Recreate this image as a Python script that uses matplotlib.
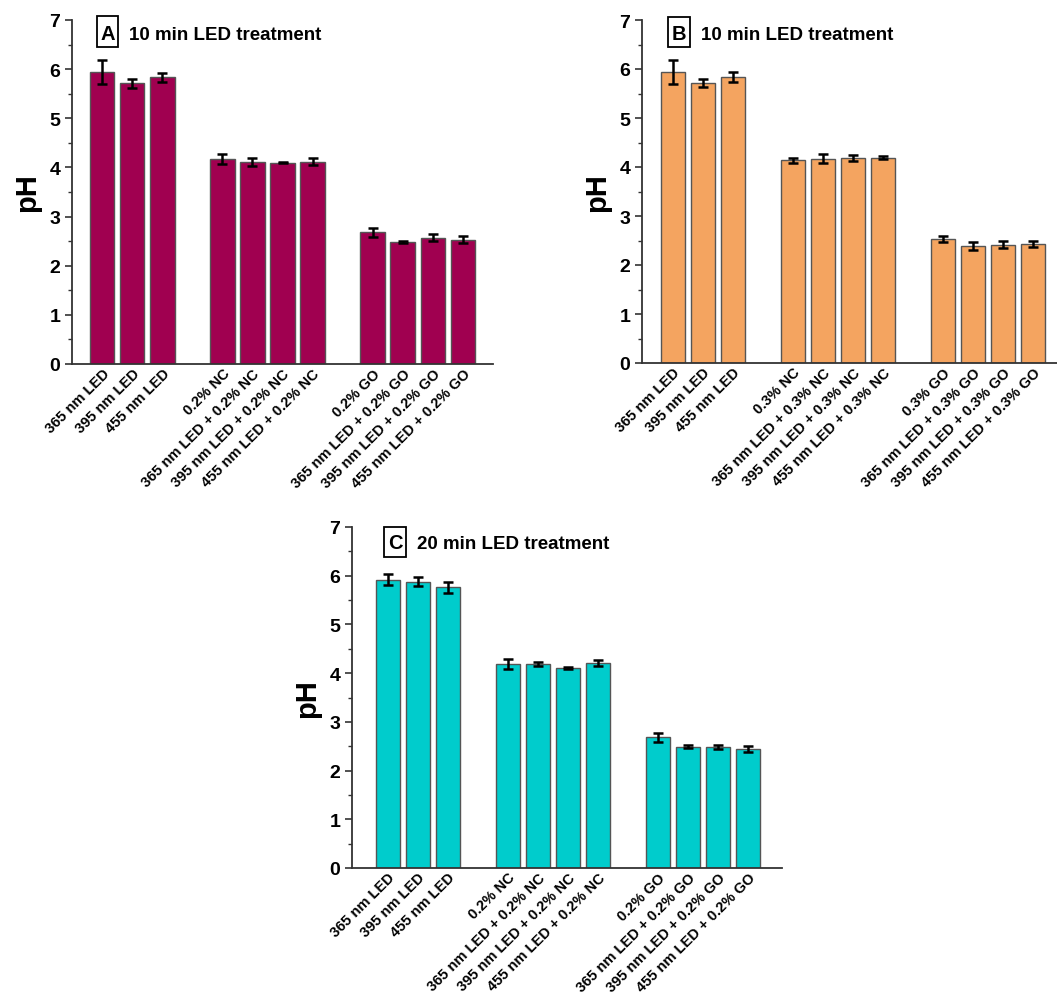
import matplotlib
matplotlib.use("Agg")
import matplotlib.pyplot as plt
from matplotlib.patches import Rectangle

plt.rcParams['font.family'] = ['Liberation Sans', 'DejaVu Sans']
plt.rcParams['font.weight'] = 'bold'

labels_02 = ["365 nm LED", "395 nm LED", "455 nm LED",
             "0.2% NC", "365 nm LED + 0.2% NC", "395 nm LED + 0.2% NC", "455 nm LED + 0.2% NC",
             "0.2% GO", "365 nm LED + 0.2% GO", "395 nm LED + 0.2% GO", "455 nm LED + 0.2% GO"]
labels_03 = ["365 nm LED", "395 nm LED", "455 nm LED",
             "0.3% NC", "365 nm LED + 0.3% NC", "395 nm LED + 0.3% NC", "455 nm LED + 0.3% NC",
             "0.3% GO", "365 nm LED + 0.3% GO", "395 nm LED + 0.3% GO", "455 nm LED + 0.3% GO"]
positions = [0, 1, 2, 4, 5, 6, 7, 9, 10, 11, 12]

ph_A = [5.94, 5.71, 5.83, 4.17, 4.11, 4.10, 4.12, 2.68, 2.48, 2.57, 2.53]
err_A = [0.24, 0.085, 0.10, 0.11, 0.085, 0.02, 0.07, 0.095, 0.02, 0.075, 0.07]
ph_B = [5.94, 5.71, 5.83, 4.14, 4.17, 4.18, 4.19, 2.53, 2.38, 2.41, 2.43]
err_B = [0.24, 0.085, 0.10, 0.05, 0.09, 0.055, 0.03, 0.07, 0.08, 0.07, 0.07]
ph_C = [5.92, 5.88, 5.76, 4.18, 4.19, 4.11, 4.20, 2.68, 2.49, 2.49, 2.45]
err_C = [0.11, 0.095, 0.11, 0.105, 0.045, 0.02, 0.06, 0.09, 0.03, 0.04, 0.06]

W, H = 1057, 995
fig = plt.figure(figsize=(W / 100, H / 100), dpi=100)

def px_axes(left, top, right, bottom):
    return fig.add_axes([left / W, 1 - bottom / H, (right - left) / W, (bottom - top) / H])

def fx(x):
    return x / W

def fy(y):
    return 1 - y / H

panels = [
    dict(rect=(72, 21, 493, 365), xlim=(-1.0, 13.0), vals=ph_A, errs=err_A, labels=labels_02,
         color="#A00050", letter="A", title="10 min LED treatment",
         box=(97, 17, 118, 48), base=40, tx=129),
    dict(rect=(642, 21, 1063, 364), xlim=(-1.03, 13.0), vals=ph_B, errs=err_B, labels=labels_03,
         color="#F4A460", letter="B", title="10 min LED treatment",
         box=(668, 17.5, 690, 48), base=39.5, tx=701),
    dict(rect=(352, 528, 782, 869), xlim=(-1.2, 13.13), vals=ph_C, errs=err_C, labels=labels_02,
         color="#00CCCC", letter="C", title="20 min LED treatment",
         box=(384, 527.5, 406, 558), base=549, tx=417),
]

for p in panels:
    ax = px_axes(*p["rect"])
    ax.bar(positions, p["vals"], width=0.82, color=p["color"], edgecolor="#555555", linewidth=1.0,
           yerr=p["errs"], capsize=3.5, error_kw=dict(elinewidth=1.8, capthick=1.8, ecolor="black"),
           zorder=2)
    ax.set_xlim(*p["xlim"])
    ax.set_ylim(0, 7)
    ax.set_yticks(range(0, 8))
    ax.set_yticks([i + 0.5 for i in range(7)], minor=True)
    ax.set_xticks(positions)
    ax.set_xticklabels(p["labels"], rotation=45, ha="right", rotation_mode="anchor",
                       fontsize=10.5, fontweight="bold")
    ax.tick_params(axis="x", length=0, pad=1.5)
    ax.tick_params(axis="y", which="major", length=5, width=1.2, labelsize=14, color="#333333")
    ax.tick_params(axis="y", which="minor", length=3, width=1.0, color="#333333")
    for lab in ax.get_yticklabels():
        lab.set_fontweight("bold")
    ax.set_ylabel("pH", fontsize=21, fontweight="bold", labelpad=6)
    for s in ["top", "right"]:
        ax.spines[s].set_visible(False)
    for s in ["left", "bottom"]:
        ax.spines[s].set_color("#333333")
        ax.spines[s].set_linewidth(1.3)

    x0, y0, x1, y1 = p["box"]
    fig.patches.append(Rectangle((fx(x0), fy(y1)), fx(x1) - fx(x0), fy(y0) - fy(y1),
                                 transform=fig.transFigure, facecolor="white",
                                 edgecolor="black", linewidth=1.3, zorder=5))
    fig.text(fx((x0 + x1) / 2), fy(p["base"]), p["letter"], fontsize=14.5, fontweight="bold",
             ha="center", va="baseline", zorder=6)
    fig.text(fx(p["tx"]), fy(p["base"]), p["title"], fontsize=13.5, fontweight="bold",
             ha="left", va="baseline")

fig.savefig("out.png", dpi=100)
